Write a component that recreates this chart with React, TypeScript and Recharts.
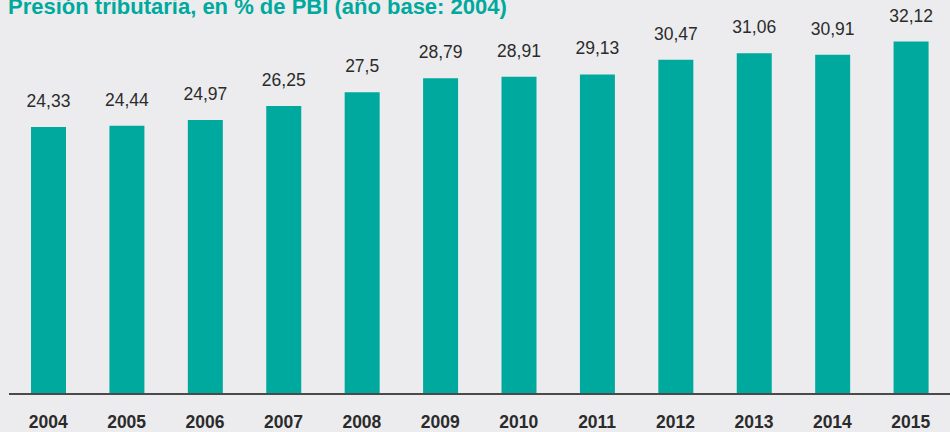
import { Bar, BarChart, LabelList, XAxis, YAxis } from "recharts";

const years = ["2004", "2005", "2006", "2007", "2008", "2009", "2010", "2011", "2012", "2013", "2014", "2015"];
const presion = [24.33, 24.44, 24.97, 26.25, 27.5, 28.79, 28.91, 29.13, 30.47, 31.06, 30.91, 32.12];

const data = years.map((year, i) => ({ year, valor: presion[i] }));

const fmt = (v: number) => String(v).replace(".", ",");

export default function App() {
  return (
    <div
      style={{
        position: "fixed",
        top: 0,
        left: 0,
        width: 950,
        height: 432,
        background: "#ececee",
        fontFamily: "'Liberation Sans', Arial, sans-serif",
        overflow: "hidden",
      }}
    >
      <div
        style={{
          position: "absolute",
          top: -4,
          left: 8,
          fontSize: 22,
          lineHeight: "22px",
          fontWeight: 700,
          color: "#00a99d",
          whiteSpace: "nowrap",
        }}
      >
        Presión tributaria, en % de PBI (año base: 2004)
      </div>
      <BarChart
        width={950}
        height={432}
        data={data}
        margin={{ top: 10, right: 0, left: 9, bottom: 8 }}
        barSize={35}
      >
        <XAxis
          dataKey="year"
          height={30}
          tickLine={false}
          tickMargin={15.5}
          axisLine={{ stroke: "#4a4a4a", strokeWidth: 2 }}
          tick={{ fill: "#2b2b2b", fontSize: 17.5, fontWeight: 700 }}
          interval={0}
        />
        <YAxis hide domain={[0, 35]} />
        <Bar dataKey="valor" fill="#00a99d" isAnimationActive={false}>
          <LabelList
            dataKey="valor"
            position="top"
            offset={20}
            formatter={(v: any) => fmt(Number(v))}
            style={{ fill: "#2b2b2b", fontSize: 17.5 }}
          />
        </Bar>
      </BarChart>
    </div>
  );
}
